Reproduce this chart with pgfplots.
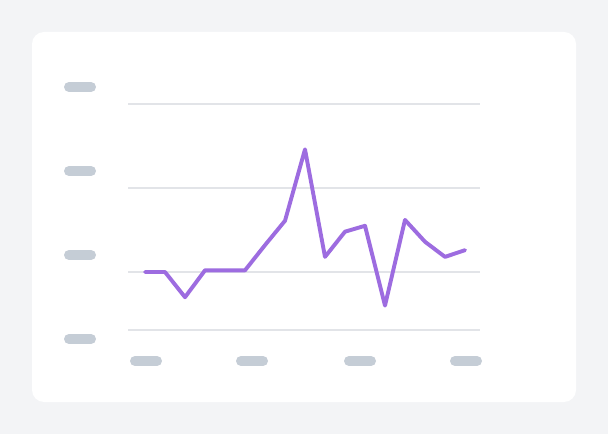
\documentclass[border=0pt]{standalone}
\usepackage{pgfplots}
\pgfplotsset{compat=1.18}
\definecolor{bggray}{HTML}{F3F4F6}
\definecolor{pill}{HTML}{C5CDD6}
\definecolor{gridc}{HTML}{E2E4E8}
\definecolor{linec}{RGB}{157,108,224}
\begin{document}
\begin{tikzpicture}
\fill[bggray] (0pt,0pt) rectangle (608pt,434pt);
\fill[white, rounded corners=12pt] (32pt,32pt) rectangle (576pt,402pt);
% y label placeholders
\foreach \yy in {347,263,179,95}{
  \draw[pill, line width=10pt, line cap=round] (69pt,\yy pt) -- (91pt,\yy pt);
}
% x label placeholders
\foreach \xa/\xb in {135/157,241/263,349/371,455/477}{
  \draw[pill, line width=10pt, line cap=round] (\xa pt,73pt) -- (\xb pt,73pt);
}
\begin{axis}[
  at={(128pt,104pt)}, anchor=south west,
  scale only axis, width=352pt, height=226pt,
  xmin=-0.85, xmax=16.75,
  ymin=3.0952, ymax=30,
  axis line style={draw=none},
  xtick=\empty,
  ytick={3.0952,10,20,30}, yticklabels={},
  major tick length=0pt,
  ymajorgrids, grid style={gridc, line width=1.5pt},
  clip=false,
]
\addplot[linec, line width=3.9pt, line join=round, line cap=round] coordinates {
(0,10.0) (1,10.0) (2,7.0) (3,10.2) (4,10.2) (5,10.2) (6,13.2) (7,16.1)
(8,24.6) (9,11.8) (10,14.8) (11,15.5) (12,6.0) (13,16.2) (14,13.6) (15,11.8) (16,12.6)
};
\end{axis}
\end{tikzpicture}
\end{document}
